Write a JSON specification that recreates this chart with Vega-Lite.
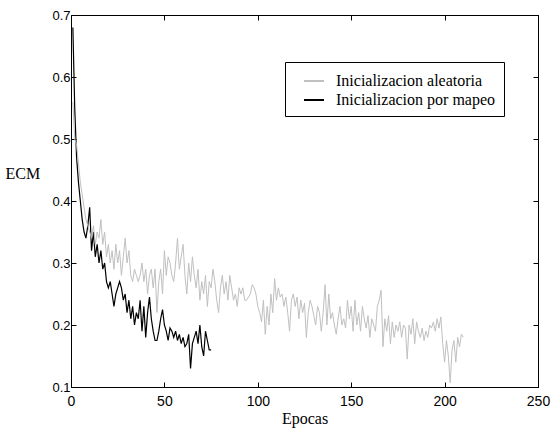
{
  "$schema": "https://vega.github.io/schema/vega-lite/v6.json",
  "width": 467,
  "height": 372,
  "autosize": {"type": "none"},
  "padding": {"left": 71, "top": 15, "right": 14, "bottom": 43},
  "background": "white",
  "config": {
    "view": {"stroke": "black", "strokeWidth": 1},
    "axis": {"grid": false, "domainColor": "black", "tickColor": "black", "labelColor": "black", "titleColor": "black", "labelFont": "Liberation Sans", "labelFontSize": 14, "titleFont": "Liberation Serif", "titleFontWeight": "normal", "titleFontSize": 16, "tickSize": -5, "labelPadding": 4},
    "legend": {"labelFont": "Liberation Serif", "labelFontSize": 16, "labelColor": "black"}
  },
  "datasets": {
    "aleatoria": [0.56,0.50,0.49,0.46,0.43,0.41,0.39,0.37,0.36,0.35,0.34,0.36,0.33,0.35,0.34,0.37,0.33,0.35,0.31,0.33,0.30,0.32,0.29,0.33,0.30,0.32,0.28,0.31,0.34,0.30,0.32,0.28,0.27,0.29,0.28,0.27,0.28,0.30,0.27,0.29,0.25,0.28,0.29,0.26,0.29,0.22,0.27,0.29,0.25,0.32,0.28,0.31,0.30,0.28,0.27,0.30,0.34,0.29,0.31,0.33,0.28,0.25,0.30,0.27,0.31,0.28,0.26,0.29,0.24,0.27,0.25,0.28,0.23,0.27,0.26,0.29,0.27,0.24,0.22,0.26,0.28,0.25,0.27,0.24,0.28,0.26,0.24,0.25,0.23,0.26,0.25,0.26,0.24,0.24,0.245,0.25,0.265,0.26,0.25,0.23,0.22,0.205,0.24,0.185,0.23,0.20,0.25,0.22,0.275,0.24,0.26,0.245,0.25,0.23,0.245,0.22,0.19,0.24,0.25,0.23,0.245,0.21,0.24,0.22,0.235,0.18,0.22,0.24,0.23,0.215,0.20,0.23,0.22,0.19,0.22,0.265,0.20,0.25,0.21,0.22,0.20,0.185,0.21,0.23,0.20,0.21,0.195,0.24,0.21,0.23,0.19,0.24,0.20,0.22,0.19,0.23,0.21,0.195,0.215,0.18,0.21,0.20,0.19,0.23,0.24,0.256,0.165,0.21,0.19,0.215,0.17,0.205,0.18,0.20,0.19,0.205,0.18,0.20,0.195,0.145,0.20,0.185,0.21,0.17,0.205,0.19,0.18,0.195,0.175,0.19,0.18,0.20,0.195,0.205,0.19,0.21,0.195,0.213,0.17,0.14,0.175,0.15,0.107,0.16,0.175,0.14,0.18,0.165,0.185,0.18],
    "mapeo": [0.68,0.55,0.47,0.43,0.40,0.37,0.35,0.34,0.36,0.39,0.32,0.35,0.31,0.33,0.30,0.32,0.29,0.30,0.27,0.26,0.27,0.25,0.23,0.25,0.26,0.27,0.26,0.24,0.25,0.22,0.24,0.21,0.23,0.20,0.22,0.21,0.24,0.19,0.23,0.18,0.22,0.245,0.21,0.19,0.175,0.175,0.19,0.21,0.225,0.20,0.19,0.175,0.195,0.19,0.18,0.19,0.175,0.185,0.17,0.18,0.165,0.17,0.185,0.13,0.17,0.18,0.19,0.17,0.20,0.165,0.15,0.19,0.175,0.16,0.16]
  },
  "data": {"name": "aleatoria"},
  "transform": [
    {"window": [{"op": "row_number", "as": "epoca"}]},
    {"calculate": "'Inicializacion aleatoria'", "as": "serie"},
    {"calculate": "datum.data", "as": "ecm"}
  ],
  "layer": [
    {
      "data": {"name": "mapeo"},
      "transform": [
        {"window": [{"op": "row_number", "as": "epoca"}]},
        {"calculate": "'Inicializacion por mapeo'", "as": "serie"},
        {"calculate": "datum.data", "as": "ecm"}
      ],
      "mark": {"type": "line", "strokeWidth": 1.2},
      "encoding": {
        "x": {"field": "epoca", "type": "quantitative", "scale": {"domain": [0, 250], "nice": false}, "axis": {"title": "Epocas", "values": [0, 50, 100, 150, 200, 250], "labelFlush": false, "labelOverlap": false, "labelPadding": 12, "titlePadding": 2}},
        "y": {"field": "ecm", "type": "quantitative", "scale": {"domain": [0.1, 0.7], "nice": false, "zero": false}, "axis": {"title": "ECM", "values": [0.1, 0.2, 0.3, 0.4, 0.5, 0.6, 0.7], "format": ".1f", "labelFlush": false, "labelOverlap": false, "labelFontSize": 13, "labelPadding": 6, "titleAngle": 0, "titleAlign": "left", "titleBaseline": "middle", "titleX": -66, "titleY": 158}},
        "color": {"field": "serie", "type": "nominal", "scale": {"domain": ["Inicializacion aleatoria", "Inicializacion por mapeo"], "range": ["#c0c0c0", "#000000"]}, "legend": {"title": null, "orient": "none", "legendX": 214, "legendY": 47, "strokeColor": "black", "fillColor": "white", "padding": 8, "symbolOffset": 10, "symbolType": "stroke", "symbolStrokeWidth": 2, "symbolSize": 400, "labelFont": "Liberation Serif", "labelFontSize": 16, "labelColor": "black", "labelOffset": 11, "rowPadding": 0, "labelLimit": 300}}
      }
    },
    {
      "mark": {"type": "line", "strokeWidth": 1},
      "encoding": {
        "x": {"field": "epoca", "type": "quantitative", "scale": {"domain": [0, 250], "nice": false}, "axis": {"orient": "top", "labels": false, "title": null, "values": [0, 50, 100, 150, 200, 250]}},
        "y": {"field": "ecm", "type": "quantitative", "scale": {"domain": [0.1, 0.7], "nice": false, "zero": false}, "axis": {"orient": "right", "labels": false, "title": null, "values": [0.1, 0.2, 0.3, 0.4, 0.5, 0.6, 0.7]}},
        "color": {"field": "serie", "type": "nominal"}
      }
    }
  ],
  "resolve": {"axis": {"x": "independent", "y": "independent"}}
}
